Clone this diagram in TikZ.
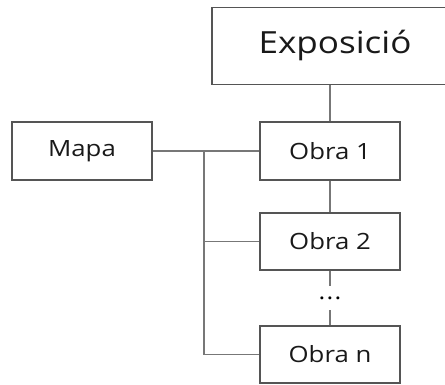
\documentclass[tikz,border=0pt]{standalone}
\usepackage{fontspec}
\setmainfont{Open Sans}[FakeStretch=1.15]
\begin{document}
\begin{tikzpicture}[x=1pt,y=1pt,
  box/.style={draw=boxgray,line width=1.2pt,fill=white,inner sep=0pt,text=black!90},
  conn/.style={draw=linegray,line width=1.1pt}]
\definecolor{boxgray}{HTML}{555555}
\definecolor{linegray}{HTML}{777777}
\useasboundingbox (0,0) rectangle (445,385);
\begin{scope}
\clip (0,0) rectangle (445,385);
\node[box,minimum width=246pt,minimum height=77pt,font=\fontsize{30.5}{36}\selectfont] (expo) at (335,339.3) {Exposició};
\end{scope}
\node[box,minimum width=140pt,minimum height=58pt,font=\fontsize{22.4}{27}\selectfont] (mapa) at (82,234) {Mapa};
\node[box,minimum width=140pt,minimum height=58pt,font=\fontsize{22.4}{27}\selectfont] (obra1) at (330,234) {Obra 1};
\node[box,minimum width=140pt,minimum height=57pt,font=\fontsize{22.4}{27}\selectfont] (obra2) at (330,143.5) {Obra 2};
\node[box,minimum width=140pt,minimum height=57pt,font=\fontsize{22.4}{27}\selectfont] (obran) at (330,30.5) {Obra n};
\node[inner sep=0pt,minimum height=24pt,font=\fontsize{22}{26}\selectfont] (dots) at (330,87) {.\hspace{1.4pt}.\hspace{1.4pt}.};
\coordinate (branch) at (204,234);
\draw[conn] (obra1.north) -- (obra1.north |- expo.south);
\draw[conn] (mapa.east) -- (obra1.west);
\draw[conn] (branch) |- (obra2.west);
\draw[conn] (branch) |- (obran.west);
\draw[conn] (obra1.south) -- (obra2.north);
\draw[conn] (obra2.south) -- (dots.north);
\draw[conn] (dots.south) -- (obran.north);
\end{tikzpicture}
\end{document}
